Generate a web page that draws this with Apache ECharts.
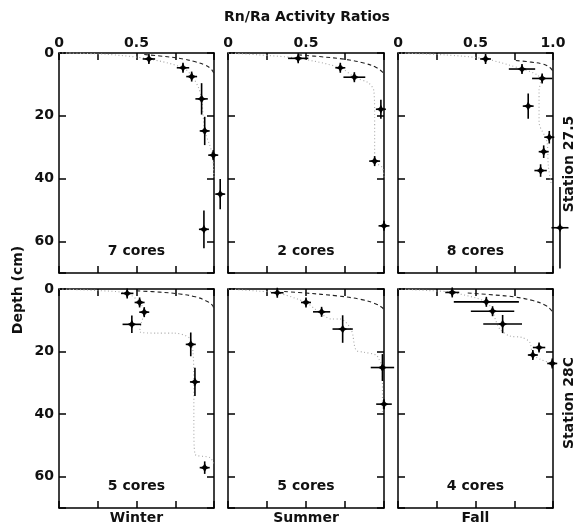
<!DOCTYPE html>
<html><head><meta charset="utf-8">
<script src="https://cdn.jsdelivr.net/npm/echarts@6/dist/echarts.min.js"></script>
<style>html,body{margin:0;padding:0;background:#fff}#c{width:577px;height:528px}</style>
</head><body><div id="c"></div>
<script>
// ---- Data: points are [ratio, depth(cm), ratioError, depthError] ----
const seasons = ['Winter', 'Summer', 'Fall'];
const stations = ['Station 27.5', 'Station 28C'];
const coreCounts = [['7 cores', '2 cores', '8 cores'], ['5 cores', '5 cores', '4 cores']];
const xTickLabels = ['0', '0.5', '1.0'];
const yTickLabels = ['0', '20', '40', '60'];

const ptsW27 = [[0.58,1.9,0.04,0.8],[0.80,4.7,0.04,1.2],[0.856,7.5,0.035,1.2],[0.92,14.6,0.04,5],[0.94,24.8,0.03,4.5],[0.995,32.5,0.03,1.5],[1.04,44.9,0.03,4.8],[0.935,56.1,0.02,6]];
const ptsS27 = [[0.45,1.7,0.065,0.8],[0.72,4.7,0.03,1.2],[0.81,7.7,0.07,1.2],[0.98,17.9,0.02,3],[0.94,34.4,0.035,1],[1.0,55,0.035,1]];
const ptsF27 = [[0.565,1.9,0.035,1],[0.80,5.1,0.085,1.2],[0.93,8.1,0.065,1.2],[0.84,16.9,0.035,4],[0.976,26.8,0.03,2],[0.94,31.4,0.025,2],[0.92,37.4,0.04,2],[1.045,55.6,0.055,13]];
const ptsW28 = [[0.44,1.4,0.04,0.8],[0.52,4.3,0.03,1.2],[0.55,7.4,0.02,1],[0.47,11.3,0.06,2.8],[0.85,17.7,0.02,3.8],[0.877,29.7,0.02,4.5],[0.94,57.1,0.02,2]];
const ptsS28 = [[0.316,1.2,0.04,0.6],[0.5,4.3,0.03,1.5],[0.60,7.3,0.055,1],[0.735,12.8,0.065,4.4],[0.99,25.1,0.075,4.3],[1.0,36.8,0.05,1.5]];
const ptsF28 = [[0.35,1.1,0.045,0.6],[0.57,4.1,0.21,1.2],[0.61,7.1,0.14,1],[0.675,11.2,0.125,2.9],[0.91,18.7,0.04,1.5],[0.87,21.1,0.03,1.5],[0.995,23.8,0.03,1.2]];

const dashW27 = [[0.55,0.5],[0.7,1.2],[0.8,1.9],[0.88,2.8],[0.94,3.8],[0.98,5],[1.0,6.5]];
const dashS27 = [[0.45,0.6],[0.6,1.2],[0.75,2],[0.87,3.2],[0.95,4.6],[1.0,6.5]];
const dashF27 = [[0.76,2.4],[0.86,2.9],[0.94,3.6],[0.98,4.6],[1.0,5.8]];
const dashW28 = [[0.5,0.6],[0.65,1],[0.78,1.6],[0.88,2.5],[0.95,3.8],[0.99,5.2],[1.0,6.5]];
const dashS28 = [[0.36,0.8],[0.5,1.3],[0.7,2.2],[0.85,3.3],[0.94,4.6],[0.99,6],[1.0,7]];
const dashF28 = [[0.45,1.3],[0.62,1.9],[0.76,2.6],[0.87,3.7],[0.95,5.2],[0.99,6.8],[1.0,8]];

const dotW27 = [[0,0],[0.3,0.4],[0.58,1.9],[0.8,4.7],[0.86,7.5],[0.9,11],[0.92,14.6],[0.93,20],[0.94,24.8],[0.97,29],[0.99,32.5],[1.0,40]];
const dotS27 = [[0,0],[0.2,0.6],[0.45,1.7],[0.72,4.7],[0.81,7.7],[0.9,9.5],[0.935,12],[0.94,20],[0.94,34.4],[0.99,36.5],[1.0,40]];
const dotF27 = [[0,0],[0.3,0.6],[0.565,1.9],[0.8,5.1],[0.9,7],[0.92,9],[0.91,12],[0.91,22],[0.96,28],[0.97,36],[0.99,42]];
const dotW28 = [[0,0],[0.25,0.5],[0.44,1.4],[0.52,4.3],[0.55,7.4],[0.53,11],[0.52,13.6],[0.63,14.1],[0.74,14.1],[0.845,15.8],[0.865,20.8],[0.87,30],[0.87,44],[0.877,52.7],[0.975,53.9],[1.0,56]];
const dotS28 = [[0,0],[0.2,0.7],[0.316,1.2],[0.5,4.3],[0.56,6.5],[0.665,9.6],[0.72,9.6],[0.79,13],[0.82,19.5],[0.87,20.2],[0.95,21.1],[0.97,22.7],[0.99,25],[0.99,40]];
const dotF28 = [[0,0],[0.2,0.5],[0.35,1.1],[0.57,4.1],[0.61,7.1],[0.63,10],[0.66,13],[0.72,15],[0.8,15.5],[0.85,17],[0.87,21],[0.92,22.5],[0.99,23.8]];

const panelPts = [ptsW27, ptsS27, ptsF27, ptsW28, ptsS28, ptsF28];
const panelDash = [dashW27, dashS27, dashF27, dashW28, dashS28, dashF28];
const panelDot = [dotW27, dotS27, dotF27, dotW28, dotS28, dotF28];

// ---- Layout ----
const FONT = 'DejaVu Sans';
const colLeft = [59, 228, 398], colWidth = [155, 156, 155];
const rowTop = [53, 289], rowHeight = [220, 219];

const chart = echarts.init(document.getElementById('c'));
const grids = [], xAxes = [], yAxes = [], series = [];
const axisLineOpt = {show: true, onZero: false, lineStyle: {color: '#000', width: 1.5}};
const tickStyle = {show: true, inside: true, length: 7, lineStyle: {color: '#000', width: 1.5}};

function renderPoint(params, api) {
  const v = api.value(0), d = api.value(1), ex = api.value(2), ed = api.value(3);
  const c = api.coord([v, d]);
  const l = api.coord([v - ex, d]), r = api.coord([v + ex, d]);
  const t = api.coord([v, d - ed]), b = api.coord([v, d + ed]);
  const x1 = Math.min(l[0], c[0] - 5), x2 = Math.max(r[0], c[0] + 5);
  const y1 = Math.min(t[1], c[1] - 5), y2 = Math.max(b[1], c[1] + 5);
  const s = 4.5, k = 1.6;
  return {type: 'group', children: [
    {type: 'line', shape: {x1: x1, y1: c[1], x2: x2, y2: c[1]}, style: {stroke: '#000', lineWidth: 1.6}},
    {type: 'line', shape: {x1: c[0], y1: y1, x2: c[0], y2: y2}, style: {stroke: '#000', lineWidth: 1.6}},
    {type: 'polygon', shape: {points: [[c[0], c[1]-s],[c[0]+k, c[1]-k],[c[0]+s, c[1]],[c[0]+k, c[1]+k],[c[0], c[1]+s],[c[0]-k, c[1]+k],[c[0]-s, c[1]],[c[0]-k, c[1]-k]]}, style: {fill: '#000'}}
  ]};
}

for (let row = 0; row < 2; row++) {
  for (let col = 0; col < 3; col++) {
    const g = row * 3 + col;
    grids.push({left: colLeft[col], top: rowTop[row], width: colWidth[col], height: rowHeight[row], containLabel: false});
    const xLabelFmt = (val) => {
      if (Math.abs(val) < 1e-9) return xTickLabels[0];
      if (Math.abs(val - 0.5) < 1e-9) return xTickLabels[1];
      if (Math.abs(val - 1) < 1e-9 && col === 2) return xTickLabels[2];
      return '';
    };
    xAxes.push({type: 'value', gridIndex: g, position: 'top', min: 0, max: 1, interval: 0.25,
      axisLine: axisLineOpt, axisTick: tickStyle, splitLine: {show: false},
      axisLabel: {show: row === 0, formatter: xLabelFmt, margin: 3, fontFamily: FONT, fontSize: 14, fontWeight: 'bold', color: '#111', showMinLabel: true, showMaxLabel: true, hideOverlap: false}});
    xAxes.push({type: 'value', gridIndex: g, position: 'bottom', min: 0, max: 1, interval: 0.25,
      axisLine: axisLineOpt, axisTick: tickStyle, splitLine: {show: false}, axisLabel: {show: false}});
    const yLabelFmt = (val) => {
      const i = [0, 20, 40, 60].indexOf(val);
      return i >= 0 ? yTickLabels[i] : '';
    };
    yAxes.push({type: 'value', gridIndex: g, position: 'left', inverse: true, min: 0, max: 70, interval: 20,
      axisLine: axisLineOpt, axisTick: tickStyle, splitLine: {show: false},
      axisLabel: {show: col === 0, formatter: yLabelFmt, margin: 5, fontFamily: FONT, fontSize: 14, fontWeight: 'bold', color: '#111', showMinLabel: true, showMaxLabel: true}});
    yAxes.push({type: 'value', gridIndex: g, position: 'right', inverse: true, min: 0, max: 70, interval: 20,
      axisLine: axisLineOpt, axisTick: tickStyle, splitLine: {show: false}, axisLabel: {show: false}});

    series.push({type: 'line', xAxisIndex: g * 2, yAxisIndex: g * 2, data: panelDot[g], symbol: 'none', smooth: 0.3, clip: false,
      lineStyle: {color: '#a8a8a8', width: 1.1, type: [1, 2.5]}, silent: true, z: 1});
    series.push({type: 'line', xAxisIndex: g * 2, yAxisIndex: g * 2, data: panelDash[g], symbol: 'none', smooth: 0.4, clip: false,
      lineStyle: {color: '#222', width: 1.1, type: [4, 3]}, silent: true, z: 2});
    series.push({type: 'custom', xAxisIndex: g * 2, yAxisIndex: g * 2, data: panelPts[g], renderItem: renderPoint, clip: false, silent: true, z: 3});
  }
}

const textStyle = (extra) => Object.assign({fontFamily: FONT, fontSize: 14, fontWeight: 'bold', fill: '#111', textAlign: 'center', textVerticalAlign: 'middle'}, extra);
const graphic = [
  {type: 'text', x: 307, y: 17, style: textStyle({text: 'Rn/Ra Activity Ratios'})},
  {type: 'text', x: 18, y: 290, rotation: Math.PI / 2, style: textStyle({text: 'Depth (cm)'})},
  {type: 'text', x: 569, y: 164, rotation: Math.PI / 2, style: textStyle({text: stations[0]})},
  {type: 'text', x: 569, y: 403, rotation: Math.PI / 2, style: textStyle({text: stations[1]})}
];
for (let col = 0; col < 3; col++) {
  const cx = colLeft[col] + colWidth[col] / 2;
  graphic.push({type: 'text', x: cx, y: 518, style: textStyle({text: seasons[col]})});
  graphic.push({type: 'text', x: cx, y: 251, style: textStyle({text: coreCounts[0][col]})});
  graphic.push({type: 'text', x: cx, y: 486, style: textStyle({text: coreCounts[1][col]})});
}

chart.setOption({animation: false, backgroundColor: '#fff', grid: grids, xAxis: xAxes, yAxis: yAxes, series: series, graphic: graphic});
</script></body></html>
